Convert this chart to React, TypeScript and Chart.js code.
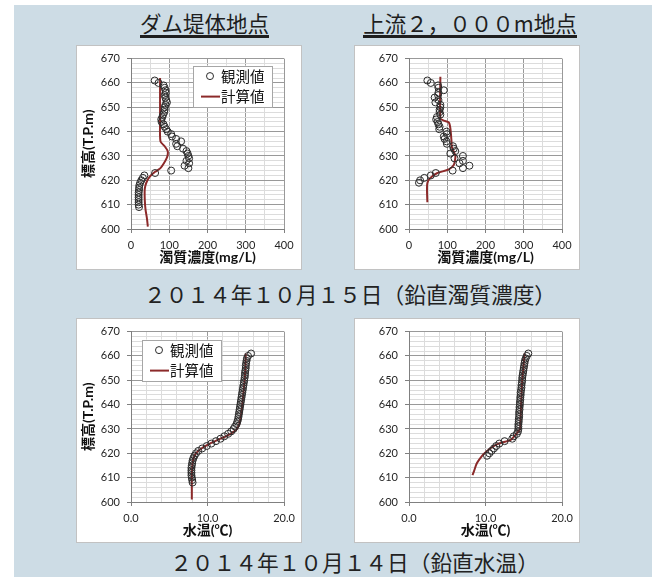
import React, { useEffect, useRef } from 'react';
import { Chart, registerables } from 'chart.js';

Chart.register(...registerables);

// ---- Dam site, turbidity (2014-10-15) ----
const damTurbObsElev = [661, 660, 659, 658, 657, 656, 655, 654, 653, 652, 651, 650, 649, 648, 647, 646, 645, 644, 643, 642, 641, 640, 639, 638, 637, 636, 635, 634, 633, 632, 631, 630, 629, 628, 627, 626, 625, 624, 623, 622, 621, 620, 619, 618, 617, 616, 615, 614, 613, 612, 611, 610, 609];
const damTurbObs = [62, 72, 85, 88, 90, 91, 88, 90, 92, 94, 90, 88, 88, 87, 84, 82, 79, 80, 85, 88, 92, 96, 105, 107, 118, 131, 118, 121, 136, 145, 148, 150, 152, 145, 152, 140, 150, 105, 63, 35, 31, 27, 24, 22, 21, 21, 20, 20, 20, 20, 20, 20, 21];
const damTurbCalcElev = [662, 645, 636, 634, 632, 630.5, 629, 627, 625, 623.5, 621.5, 619, 616.5, 612, 608, 604, 601];
const damTurbCalc = [76, 76, 77, 88, 96, 96, 93, 86, 77, 63, 49, 40, 36, 36, 38, 42, 44];

// ---- 2,000 m upstream, turbidity (2014-10-15) ----
const upTurbObsElev = [661, 660, 659, 658, 657, 656, 655, 654, 653, 652, 651, 650, 649, 648, 647, 646, 645, 644, 643, 642, 641, 640, 639, 638, 637, 636, 635, 634, 633, 632, 631, 630, 629, 628, 627, 626, 625, 624, 623, 622, 621, 620, 619];
const upTurbObs = [48, 57, 76, 77, 91, 77, 76, 67, 77, 69, 82, 82, 80, 80, 82, 73, 71, 75, 77, 80, 79, 98, 99, 91, 93, 98, 99, 115, 117, 121, 108, 141, 119, 141, 132, 158, 141, 114, 70, 57, 40, 29, 26];
const upTurbCalcElev = [662.5, 645.5, 644.5, 643.8, 641.5, 636.3, 633.7, 630.3, 629, 626.3, 624.5, 622.9, 620.9, 618.9, 616.2, 611];
const upTurbCalc = [82, 82, 91, 104, 108, 111, 112, 121, 121, 117, 104, 73, 55, 48, 47, 48];

// ---- Dam site, water temperature (2014-10-14) ----
const damTempObsElev = [661, 660, 659, 658, 657, 656, 655, 654, 653, 652, 651, 650, 649, 648, 647, 646, 645, 644, 643, 642, 641, 640, 639, 638, 637, 636, 635, 634, 633, 632, 631, 630, 629, 628, 627, 626, 625, 624, 623, 622, 621, 620, 619, 618, 617, 616, 615, 614, 613, 612, 611, 610, 609, 608];
const damTempObs = [15.7, 15.3, 15.15, 15.1, 15.05, 15.0, 15.0, 14.95, 14.9, 14.9, 14.85, 14.8, 14.75, 14.7, 14.65, 14.6, 14.55, 14.5, 14.45, 14.4, 14.35, 14.3, 14.25, 14.2, 14.15, 14.1, 14.05, 14.0, 13.9, 13.8, 13.6, 13.4, 13.1, 12.7, 12.2, 11.7, 11.1, 10.5, 9.9, 9.3, 8.8, 8.5, 8.3, 8.15, 8.05, 8.0, 7.95, 7.9, 7.9, 7.9, 7.9, 7.95, 8.0, 8.05];
const damTempCalcElev = [661, 655, 650, 645, 640, 635, 632, 630, 629, 628, 627, 626, 625, 624, 623, 622, 621, 620, 619, 617, 614, 610, 605, 601];
const damTempCalc = [15.0, 14.95, 14.85, 14.7, 14.55, 14.35, 14.15, 13.85, 13.5, 13.0, 12.4, 11.7, 11.0, 10.3, 9.7, 9.2, 8.8, 8.5, 8.3, 8.1, 8.0, 7.95, 7.95, 7.95];

// ---- 2,000 m upstream, water temperature (2014-10-14) ----
const upTempObsElev = [661, 660, 659, 658, 657, 656, 655, 654, 653, 652, 651, 650, 649, 648, 647, 646, 645, 644, 643, 642, 641, 640, 639, 638, 637, 636, 635, 634, 633, 632, 631, 630, 629, 628, 627, 626, 625, 624, 623, 622, 621, 620, 619];
const upTempObs = [15.6, 15.4, 15.25, 15.15, 15.1, 15.05, 15.0, 14.95, 14.9, 14.85, 14.8, 14.8, 14.75, 14.7, 14.7, 14.65, 14.6, 14.6, 14.55, 14.55, 14.5, 14.5, 14.45, 14.45, 14.4, 14.4, 14.4, 14.35, 14.35, 14.3, 14.3, 14.3, 14.25, 14.1, 13.7, 13.5, 12.5, 11.8, 11.4, 11.1, 10.8, 10.5, 10.2];
const upTempCalcElev = [661, 655, 650, 640, 632, 630, 627.5, 625.5, 624, 622, 619.5, 617.5, 615.8, 612.7, 611];
const upTempCalc = [15.1, 14.95, 14.8, 14.65, 14.55, 14.5, 13.9, 13.3, 11.7, 10.6, 9.7, 9.2, 8.85, 8.5, 8.3];

// Axis ranges and labels
const elevMin = 600;
const elevMax = 670;
const turbMax = 400;
const tempMax = 20;
const seriesLabels = ['観測値', '計算値'];
const turbTitle = '濁質濃度(mg/L)';
const tempTitle = '水温(℃)';
const elevTitle = '標高(T.P.m)';

const PANEL_W = 226;
const PANEL_H = 225;
const OBS_COLOR = '#2b2b2b';
const CALC_COLOR = '#8c2a2a';
const GRID_MAJOR = '#999999';
const GRID_MINOR = '#dcdcdc';
const AXIS_COLOR = '#808080';
const TEXT_COLOR = '#262626';
const LATIN_FONT = 'Lato, "Noto Sans CJK JP", sans-serif';
const CJK_FONT = '"Noto Sans CJK JP", sans-serif';

const toPoints = (elev: number[], vals: number[]) => elev.map((e, i) => ({ x: vals[i], y: e }));

// Framed legend drawn inside the plot area
const boxLegend = {
  id: 'boxLegend',
  afterDatasetsDraw(chart: any, _args: any, opts: any) {
    if (!opts || !opts.show) return;
    const { ctx, chartArea } = chart;
    const w = 80;
    const h = 42;
    const x0 = opts.side === 'right' ? chartArea.right - opts.dx - w : chartArea.left + opts.dx;
    const y0 = chartArea.top + opts.dy;
    const labels = chart.data.datasets.map((d: any) => d.label);
    ctx.save();
    ctx.fillStyle = '#ffffff';
    ctx.fillRect(x0, y0, w, h);
    ctx.strokeStyle = '#a6a6a6';
    ctx.lineWidth = 1;
    ctx.strokeRect(Math.round(x0) + 0.5, Math.round(y0) + 0.5, w - 1, h - 1);
    ctx.beginPath();
    ctx.arc(x0 + 17, y0 + 10.5, 3.5, 0, Math.PI * 2);
    ctx.strokeStyle = OBS_COLOR;
    ctx.lineWidth = 1;
    ctx.stroke();
    ctx.beginPath();
    ctx.moveTo(x0 + 8, y0 + 31);
    ctx.lineTo(x0 + 27, y0 + 31);
    ctx.strokeStyle = CALC_COLOR;
    ctx.lineWidth = 2;
    ctx.stroke();
    ctx.fillStyle = '#111111';
    ctx.font = '14.5px ' + CJK_FONT;
    ctx.textBaseline = 'middle';
    ctx.textAlign = 'left';
    ctx.fillText(labels[0], x0 + 28, y0 + 10.5);
    ctx.fillText(labels[1], x0 + 28, y0 + 31);
    ctx.restore();
  },
};

type ProfileProps = {
  left: number;
  top: number;
  obsElev: number[];
  obs: number[];
  calcElev: number[];
  calc: number[];
  xMax: number;
  xStep: number;
  xMajor: number;
  xDecimals: number;
  xTitle: string;
  yTitle?: string;
  legend?: { side: 'left' | 'right'; dx: number; dy: number };
};

function ProfileChart(p: ProfileProps) {
  const ref = useRef<HTMLCanvasElement>(null);

  useEffect(() => {
    const canvas = ref.current;
    if (!canvas) return;
    const tickFont = { family: LATIN_FONT, size: 11 };
    const titleFont = { family: LATIN_FONT, size: 14, weight: 'bold' as const };
    const isMajorX = (v: number) => Math.abs(v % p.xMajor) < 1e-9;
    const chart = new Chart(canvas, {
      type: 'scatter',
      data: {
        datasets: [
          {
            label: seriesLabels[0],
            data: toPoints(p.obsElev, p.obs),
            showLine: false,
            pointStyle: 'circle',
            pointRadius: 3.5,
            pointBorderWidth: 1,
            pointBorderColor: OBS_COLOR,
            pointBackgroundColor: 'rgba(255,255,255,0)',
            borderColor: OBS_COLOR,
            backgroundColor: 'rgba(255,255,255,0)',
          },
          {
            label: seriesLabels[1],
            data: toPoints(p.calcElev, p.calc),
            showLine: true,
            pointRadius: 0,
            borderColor: CALC_COLOR,
            borderWidth: 2,
            tension: 0.25,
          },
        ],
      },
      options: {
        responsive: false,
        animation: false,
        devicePixelRatio: 1,
        layout: { padding: { top: 12, right: 18, left: 0, bottom: 0 } },
        plugins: {
          legend: { display: false },
          tooltip: { enabled: false },
          boxLegend: p.legend ? { show: true, ...p.legend } : { show: false },
        } as any,
        scales: {
          x: {
            type: 'linear',
            min: 0,
            max: p.xMax,
            ticks: {
              stepSize: p.xStep,
              autoSkip: false,
              maxRotation: 0,
              padding: 6,
              color: TEXT_COLOR,
              font: tickFont,
              callback: (v: any) => (isMajorX(v) ? Number(v).toFixed(p.xDecimals) : ''),
            },
            grid: {
              color: (c: any) => (c.tick && isMajorX(c.tick.value) ? GRID_MAJOR : GRID_MINOR),
              tickColor: (c: any) => (c.tick && isMajorX(c.tick.value) ? AXIS_COLOR : 'rgba(0,0,0,0)'),
              tickLength: 4,
            },
            border: { color: AXIS_COLOR, width: 1 },
            title: {
              display: true,
              text: p.xTitle,
              color: '#111111',
              font: titleFont,
              padding: { top: 0, bottom: 4 },
            },
            afterFit: (s: any) => {
              s.height = 41;
            },
          },
          y: {
            type: 'linear',
            min: elevMin,
            max: elevMax,
            ticks: {
              stepSize: 2,
              autoSkip: false,
              padding: 7,
              color: TEXT_COLOR,
              font: tickFont,
              callback: (v: any) => (v % 10 === 0 ? String(v) : ''),
            },
            grid: {
              color: (c: any) => (c.tick && c.tick.value % 10 === 0 ? GRID_MAJOR : GRID_MINOR),
              tickColor: (c: any) => (c.tick && c.tick.value % 10 === 0 ? AXIS_COLOR : 'rgba(0,0,0,0)'),
              tickLength: 4,
            },
            border: { color: AXIS_COLOR, width: 1 },
            title: {
              display: !!p.yTitle,
              text: p.yTitle || '',
              color: '#111111',
              font: titleFont,
              padding: { top: 4, bottom: 0 },
            },
            afterFit: (s: any) => {
              s.width = 55;
            },
          },
        },
      } as any,
      plugins: [boxLegend],
    });
    return () => chart.destroy();
  }, []);

  return (
    <div
      style={{
        position: 'absolute',
        left: p.left,
        top: p.top,
        width: PANEL_W,
        height: PANEL_H,
        background: '#ffffff',
        outline: '1px solid #c2c2c2',
        outlineOffset: -1,
      }}
    >
      <canvas ref={ref} width={PANEL_W} height={PANEL_H} style={{ display: 'block', width: PANEL_W, height: PANEL_H }} />
    </div>
  );
}

function Heading({ text, cx, cy }: { text: string; cx: number; cy: number }) {
  const size = 21.5;
  return (
    <div
      style={{
        position: 'absolute',
        left: cx - 160,
        top: cy - size / 2,
        width: 320,
        textAlign: 'center',
        fontFamily: CJK_FONT,
        fontSize: size,
        lineHeight: size + 'px',
        color: '#1e1e1e',
        whiteSpace: 'nowrap',
      }}
    >
      <span style={{ display: 'inline-block', paddingBottom: 1, borderBottom: '3px solid #1e1e1e' }}>{text}</span>
    </div>
  );
}

function Caption({ text, cx, cy }: { text: string; cx: number; cy: number }) {
  const size = 21.7;
  return (
    <div
      style={{
        position: 'absolute',
        left: cx - 250,
        top: cy - size / 2,
        width: 500,
        textAlign: 'center',
        fontFamily: CJK_FONT,
        fontSize: size,
        lineHeight: size + 'px',
        color: '#222222',
        whiteSpace: 'nowrap',
      }}
    >
      {text}
    </div>
  );
}

export default function App() {
  return (
    <div style={{ position: 'absolute', left: 0, top: 0, width: 658, height: 577, background: '#ffffff', overflow: 'hidden' }}>
      <div style={{ position: 'absolute', left: 14, top: 5, width: 638, height: 572, background: '#cddce5' }} />
      <Heading text="ダム堤体地点" cx={204.5} cy={23} />
      <Heading text="上流２，０００m地点" cx={470} cy={23} />

      <ProfileChart
        left={76}
        top={45}
        obsElev={damTurbObsElev}
        obs={damTurbObs}
        calcElev={damTurbCalcElev}
        calc={damTurbCalc}
        xMax={turbMax}
        xStep={50}
        xMajor={100}
        xDecimals={0}
        xTitle={turbTitle}
        yTitle={elevTitle}
        legend={{ side: 'right', dx: 11, dy: 7 }}
      />
      <ProfileChart
        left={354}
        top={45}
        obsElev={upTurbObsElev}
        obs={upTurbObs}
        calcElev={upTurbCalcElev}
        calc={upTurbCalc}
        xMax={turbMax}
        xStep={50}
        xMajor={100}
        xDecimals={0}
        xTitle={turbTitle}
      />
      <Caption text="２０１４年１０月１５日（鉛直濁質濃度）" cx={350} cy={294} />

      <ProfileChart
        left={76}
        top={318}
        obsElev={damTempObsElev}
        obs={damTempObs}
        calcElev={damTempCalcElev}
        calc={damTempCalc}
        xMax={tempMax}
        xStep={2}
        xMajor={10}
        xDecimals={1}
        xTitle={tempTitle}
        yTitle={elevTitle}
        legend={{ side: 'left', dx: 11, dy: 8 }}
      />
      <ProfileChart
        left={354}
        top={318}
        obsElev={upTempObsElev}
        obs={upTempObs}
        calcElev={upTempCalcElev}
        calc={upTempCalc}
        xMax={tempMax}
        xStep={2}
        xMajor={10}
        xDecimals={1}
        xTitle={tempTitle}
      />
      <Caption text="２０１４年１０月１４日（鉛直水温）" cx={354.5} cy={562} />
    </div>
  );
}
